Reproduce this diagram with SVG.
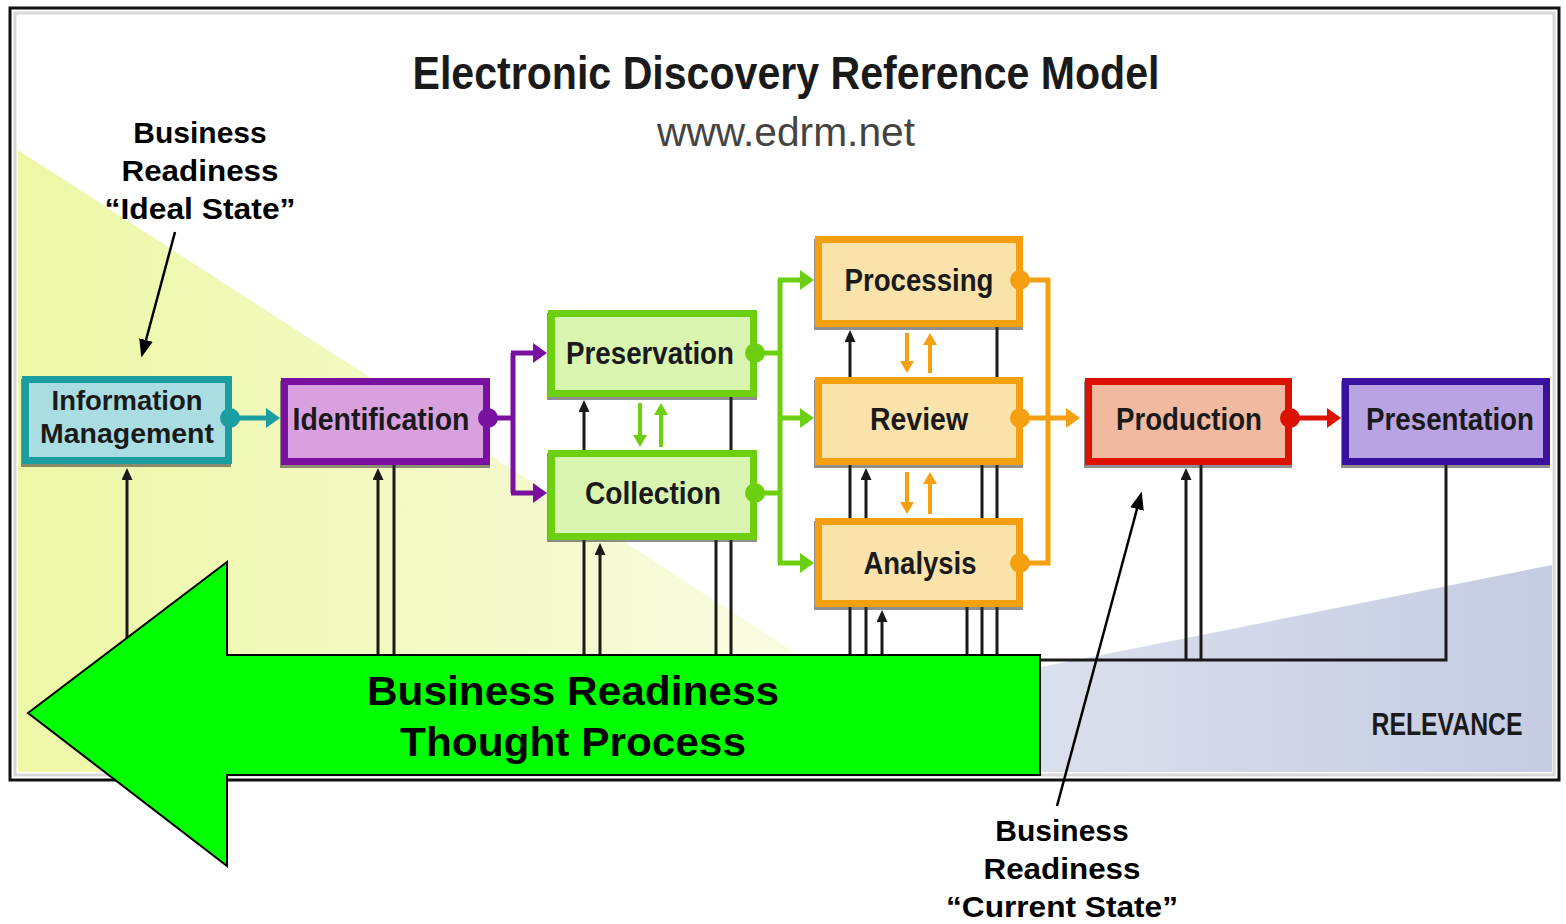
<svg xmlns="http://www.w3.org/2000/svg" width="1566" height="924" viewBox="0 0 1566 924">
<style>
.lbl{font-family:"Liberation Sans",Arial,sans-serif;font-weight:bold;fill:#1a1a1a;text-anchor:middle}
.note{font-family:"Liberation Sans",Arial,sans-serif;font-weight:bold;fill:#000;text-anchor:middle}
.blk{stroke:#1a1a1a;stroke-width:3;fill:none}
.box{stroke-width:7}
.shadow{fill:#333;opacity:0.55}
</style>
<defs>
<linearGradient id="gy" x1="0" y1="0" x2="1" y2="0">
<stop offset="0" stop-color="#eef7a6"/>
<stop offset="0.6" stop-color="#f6fad2"/>
<stop offset="1" stop-color="#fdfef2"/>
</linearGradient>
<linearGradient id="gb" x1="0" y1="0" x2="1" y2="0">
<stop offset="0" stop-color="#ffffff"/>
<stop offset="0.35" stop-color="#e2e6f1"/>
<stop offset="1" stop-color="#c4cce1"/>
</linearGradient>
<marker id="ab" viewBox="0 0 10 10" refX="0" refY="5" markerWidth="12" markerHeight="11" markerUnits="userSpaceOnUse" orient="auto" preserveAspectRatio="none"><path d="M0,0L10,5L0,10z" fill="#1a1a1a"/></marker>
<marker id="an" viewBox="0 0 10 10" refX="0" refY="5" markerWidth="18" markerHeight="14" markerUnits="userSpaceOnUse" orient="auto" preserveAspectRatio="none"><path d="M0,0L10,5L0,10z" fill="#000"/></marker>
<marker id="at" viewBox="0 0 10 10" refX="0" refY="5" markerWidth="14" markerHeight="20" markerUnits="userSpaceOnUse" orient="auto" preserveAspectRatio="none"><path d="M0,0L10,5L0,10z" fill="#1a9ea0"/></marker>
<marker id="ap" viewBox="0 0 10 10" refX="0" refY="5" markerWidth="14" markerHeight="20" markerUnits="userSpaceOnUse" orient="auto" preserveAspectRatio="none"><path d="M0,0L10,5L0,10z" fill="#7a10a0"/></marker>
<marker id="ag" viewBox="0 0 10 10" refX="0" refY="5" markerWidth="14" markerHeight="20" markerUnits="userSpaceOnUse" orient="auto" preserveAspectRatio="none"><path d="M0,0L10,5L0,10z" fill="#6cd010"/></marker>
<marker id="ags" viewBox="0 0 10 10" refX="0" refY="5" markerWidth="12" markerHeight="14" markerUnits="userSpaceOnUse" orient="auto" preserveAspectRatio="none"><path d="M0,0L10,5L0,10z" fill="#6cd010"/></marker>
<marker id="ao" viewBox="0 0 10 10" refX="0" refY="5" markerWidth="14" markerHeight="20" markerUnits="userSpaceOnUse" orient="auto" preserveAspectRatio="none"><path d="M0,0L10,5L0,10z" fill="#f5a010"/></marker>
<marker id="aos" viewBox="0 0 10 10" refX="0" refY="5" markerWidth="12" markerHeight="14" markerUnits="userSpaceOnUse" orient="auto" preserveAspectRatio="none"><path d="M0,0L10,5L0,10z" fill="#f5a010"/></marker>
<marker id="ar" viewBox="0 0 10 10" refX="0" refY="5" markerWidth="14" markerHeight="20" markerUnits="userSpaceOnUse" orient="auto" preserveAspectRatio="none"><path d="M0,0L10,5L0,10z" fill="#dd1100"/></marker>
</defs>

<!-- frame and background -->
<rect x="10" y="8" width="1549" height="772" fill="#ffffff" stroke="#111" stroke-width="3"/>
<polygon points="18,150 980,772 18,772" fill="url(#gy)"/>
<polygon points="1552,565 1552,772 515,772" fill="url(#gb)"/>
<rect x="15" y="13" width="1539" height="762" fill="none" stroke="#d8d8d8" stroke-width="3"/>

<text x="786" y="89" class="lbl" font-size="46" fill="#222" textLength="747" lengthAdjust="spacingAndGlyphs">Electronic Discovery Reference Model</text>
<text x="786" y="146" font-family="Liberation Sans, Arial, sans-serif" font-size="40" fill="#444" text-anchor="middle" textLength="258" lengthAdjust="spacingAndGlyphs">www.edrm.net</text>
<text x="1447" y="735" class="lbl" font-size="31" fill="#333" textLength="151" lengthAdjust="spacingAndGlyphs">RELEVANCE</text>

<!-- connectors -->
<g id="connectors">
<g class="blk">
<path d="M127,660 H1446 V465"/>
<path d="M127,660 V480" marker-end="url(#ab)"/>
<path d="M378,660 V480" marker-end="url(#ab)"/>
<path d="M394,660 V465"/>
<path d="M584,660 V412" marker-end="url(#ab)"/>
<path d="M600,660 V555" marker-end="url(#ab)"/>
<path d="M716,660 V540"/>
<path d="M731,660 V397"/>
<path d="M850,660 V342" marker-end="url(#ab)"/>
<path d="M866,660 V480" marker-end="url(#ab)"/>
<path d="M882,660 V622" marker-end="url(#ab)"/>
<path d="M967,660 V607"/>
<path d="M982,660 V465"/>
<path d="M997,660 V327"/>
<path d="M1186,660 V480" marker-end="url(#ab)"/>
<path d="M1201,660 V465"/>
</g>
<path d="M230,418 H266" stroke="#1a9ea0" stroke-width="5" fill="none" marker-end="url(#at)"/>
<g stroke="#7a10a0" stroke-width="5" fill="none">
<path d="M490,418 H513 M513,353 V493"/>
<path d="M511,353 H533" marker-end="url(#ap)"/>
<path d="M511,493 H533" marker-end="url(#ap)"/>
</g>
<g stroke="#6cd010" stroke-width="5" fill="none">
<path d="M755,353 H780 M755,493 H780 M780,280 V563"/>
<path d="M778,280 H800" marker-end="url(#ag)"/>
<path d="M778,418 H800" marker-end="url(#ag)"/>
<path d="M778,563 H800" marker-end="url(#ag)"/>
<path d="M640,403 V435" stroke-width="4" marker-end="url(#ags)"/>
<path d="M661,447 V415" stroke-width="4" marker-end="url(#ags)"/>
</g>
<g stroke="#f5a010" stroke-width="5" fill="none">
<path d="M1020,280 H1048 V563 H1020"/>
<path d="M1020,418 H1066" marker-end="url(#ao)"/>
<path d="M907,333 V361" stroke-width="4" marker-end="url(#aos)"/>
<path d="M930,373 V345" stroke-width="4" marker-end="url(#aos)"/>
<path d="M907,472 V502" stroke-width="4" marker-end="url(#aos)"/>
<path d="M930,514 V484" stroke-width="4" marker-end="url(#aos)"/>
</g>
<path d="M1290,418 H1327" stroke="#dd1100" stroke-width="5" fill="none" marker-end="url(#ar)"/>
</g>

<!-- nodes -->
<g id="information-management">
<rect class="shadow" x="21" y="379" width="210" height="88"/>
<rect class="box" x="25.5" y="379.5" width="203" height="81" fill="#a9dde2" stroke="#1a9ea0"/>
<circle cx="230" cy="418" r="10" fill="#1a9ea0"/>
<text x="127" y="410" class="lbl" font-size="27" textLength="151" lengthAdjust="spacingAndGlyphs">Information</text>
<text x="127" y="443" class="lbl" font-size="27" textLength="174" lengthAdjust="spacingAndGlyphs">Management</text>
</g>
<g id="identification">
<rect class="shadow" x="280" y="381" width="210" height="87"/>
<rect class="box" x="284.5" y="381.5" width="202" height="80" fill="#d9a0e0" stroke="#7a10a0"/>
<circle cx="488" cy="418" r="10" fill="#7a10a0"/>
<text x="381" y="430" class="lbl" font-size="31" textLength="177" lengthAdjust="spacingAndGlyphs">Identification</text>
</g>
<g id="preservation">
<rect class="shadow" x="547" y="313" width="210" height="87"/>
<rect class="box" x="551.5" y="313.5" width="202" height="80" fill="#d9f5b0" stroke="#6cd010"/>
<circle cx="755" cy="353" r="10" fill="#6cd010"/>
<text x="650" y="364" class="lbl" font-size="31" textLength="168" lengthAdjust="spacingAndGlyphs">Preservation</text>
</g>
<g id="collection">
<rect class="shadow" x="547" y="453" width="210" height="89"/>
<rect class="box" x="551.5" y="453.5" width="202" height="83" fill="#d9f5b0" stroke="#6cd010"/>
<circle cx="755" cy="493" r="10" fill="#6cd010"/>
<text x="653" y="504" class="lbl" font-size="31" textLength="136" lengthAdjust="spacingAndGlyphs">Collection</text>
</g>
<g id="processing">
<rect class="shadow" x="814" y="239" width="209" height="91"/>
<rect class="box" x="818.5" y="239.5" width="201" height="84" fill="#fae3aa" stroke="#f5a010"/>
<circle cx="1020" cy="280" r="10" fill="#f5a010"/>
<text x="919" y="291" class="lbl" font-size="31" textLength="149" lengthAdjust="spacingAndGlyphs">Processing</text>
</g>
<g id="review">
<rect class="shadow" x="814" y="380" width="209" height="88"/>
<rect class="box" x="818.5" y="380.5" width="201" height="81" fill="#fae3aa" stroke="#f5a010"/>
<circle cx="1020" cy="418" r="10" fill="#f5a010"/>
<text x="919" y="430" class="lbl" font-size="31" textLength="98" lengthAdjust="spacingAndGlyphs">Review</text>
</g>
<g id="analysis">
<rect class="shadow" x="814" y="521" width="209" height="89"/>
<rect class="box" x="818.5" y="521.5" width="201" height="82" fill="#fae3aa" stroke="#f5a010"/>
<circle cx="1020" cy="563" r="10" fill="#f5a010"/>
<text x="920" y="574" class="lbl" font-size="31" textLength="113" lengthAdjust="spacingAndGlyphs">Analysis</text>
</g>
<g id="production">
<rect class="shadow" x="1084" y="381" width="208" height="87"/>
<rect class="box" x="1088.5" y="381.5" width="200" height="80" fill="#f1b9a0" stroke="#dd1100"/>
<circle cx="1290" cy="418" r="10" fill="#dd1100"/>
<text x="1189" y="430" class="lbl" font-size="31" textLength="146" lengthAdjust="spacingAndGlyphs">Production</text>
</g>
<g id="presentation">
<rect class="shadow" x="1341" y="381" width="209" height="87"/>
<rect class="box" x="1345.5" y="381.5" width="201" height="80" fill="#b9a3e3" stroke="#3a10a0"/>
<text x="1450" y="430" class="lbl" font-size="31" textLength="168" lengthAdjust="spacingAndGlyphs">Presentation</text>
</g>

<!-- big arrow -->
<g id="thought-process">
<polygon points="28,713 227,562 227,655 1040,655 1040,775 227,775 227,866" fill="#00ff00" stroke="#000" stroke-width="2"/>
<text x="573" y="705" class="note" font-size="41" textLength="412" lengthAdjust="spacingAndGlyphs">Business Readiness</text>
<text x="573" y="756" class="note" font-size="41" textLength="346" lengthAdjust="spacingAndGlyphs">Thought Process</text>
</g>

<!-- callouts -->
<g id="ideal-state">
<text x="200" y="143" class="note" font-size="30">Business</text>
<text x="200" y="181" class="note" font-size="30" textLength="157" lengthAdjust="spacingAndGlyphs">Readiness</text>
<text x="200" y="219" class="note" font-size="30" textLength="191" lengthAdjust="spacingAndGlyphs">“Ideal State”</text>
<path d="M175,232 L146,340" stroke="#000" stroke-width="2.5" fill="none" marker-end="url(#an)"/>
</g>
<g id="current-state">
<text x="1062" y="841" class="note" font-size="30">Business</text>
<text x="1062" y="879" class="note" font-size="30" textLength="157" lengthAdjust="spacingAndGlyphs">Readiness</text>
<text x="1062" y="917" class="note" font-size="30" textLength="232" lengthAdjust="spacingAndGlyphs">“Current State”</text>
<path d="M1057,806 L1137,509" stroke="#000" stroke-width="2.5" fill="none" marker-end="url(#an)"/>
</g>
</svg>
